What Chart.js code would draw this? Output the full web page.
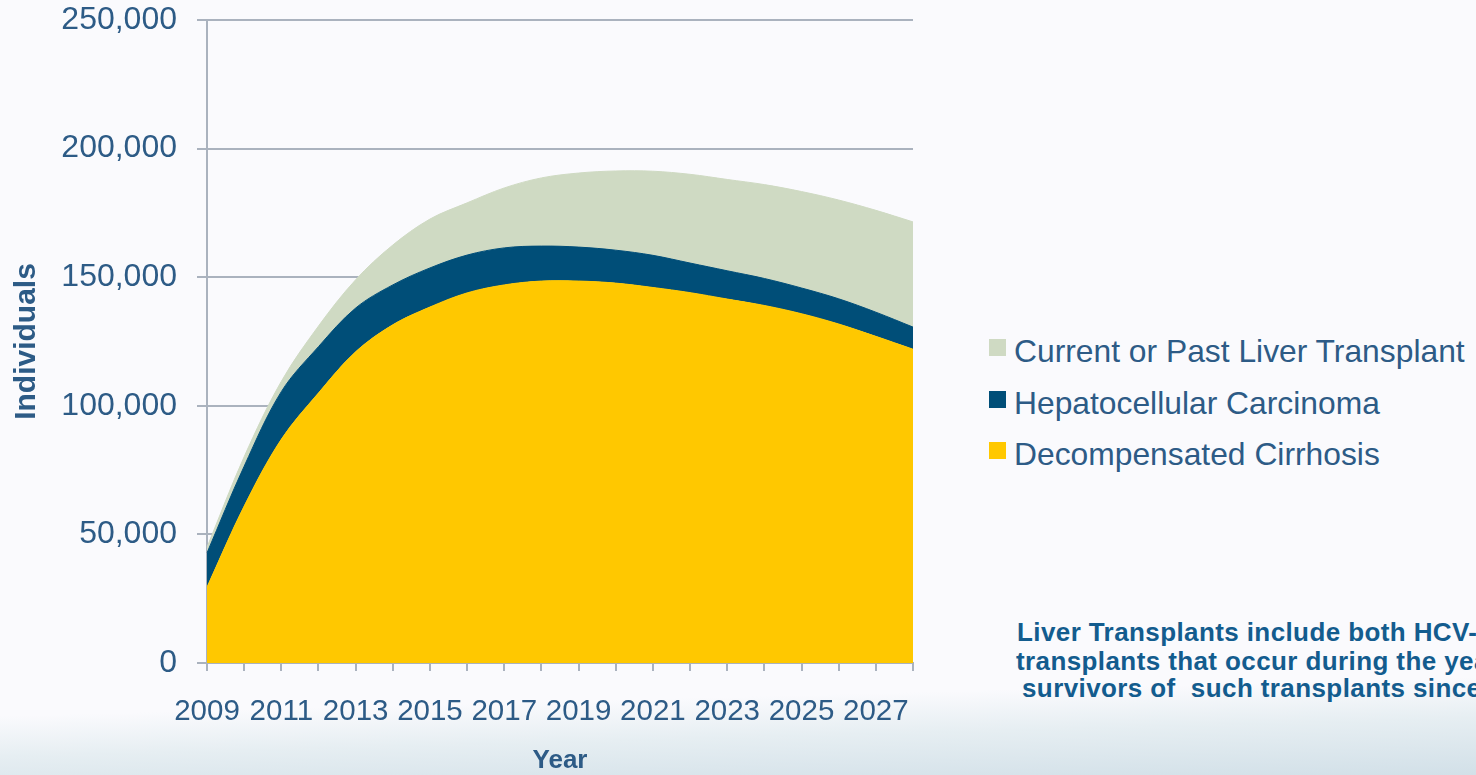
<!DOCTYPE html>
<html>
<head>
<meta charset="utf-8">
<script src="https://cdn.jsdelivr.net/npm/chart.js@4.4.1/dist/chart.umd.min.js"></script>
<style>
    html, body {
        margin: 0;
        padding: 0;
        width: 1476px;
        height: 775px;
        overflow: hidden;
        font-family: "Liberation Sans", Arial, sans-serif;
        background: linear-gradient(178.5deg, #fafafd 0%, #fafafd 88%, #e6eef2 93%, #d2e0e8 100%);
    }
    #grafico {
        position: absolute;
        left: 0;
        top: 0;
    }
    .legenda_item {
        position: absolute;
        left: 989px;
        height: 36px;
        color: #2d5b86;
        font-size: 31.8px;
        line-height: 36px;
        white-space: nowrap;
    }
    .legenda_item span {
        position: absolute;
        left: 0;
        top: 6px;
        width: 17px;
        height: 17px;
    }
    .legenda_item p {
        margin: 0;
        position: absolute;
        left: 25px;
        top: 0;
    }
    .nota {
        position: absolute;
        margin: 0;
        color: #135c8e;
        font-size: 26px;
        font-weight: bold;
        letter-spacing: 0.4px;
        line-height: 30px;
        white-space: pre;
    }
</style>
</head>
<body>
<canvas id="grafico" width="960" height="775"></canvas>
<div id="legenda"></div>
<p class="nota" style="left:1017px; top:617px;">Liver Transplants include both HCV-related</p>
<p class="nota" style="left:1016px; top:646px;">transplants that occur during the year and</p>
<p class="nota" style="left:1022px; top:673px;">survivors of  such transplants since</p>

<script>
// dados (individuos por ano)
const anos = ["2009", "2010", "2011", "2012", "2013", "2014", "2015", "2016", "2017", "2018",
    "2019", "2020", "2021", "2022", "2023", "2024", "2025", "2026", "2027", "2028"];

const cirrose = [29500, 61000, 87000, 105000, 121000, 131500, 138400, 143900, 147000, 148500,
    148500, 147700, 146000, 144000, 141500, 139000, 135800, 131800, 127000, 122000];

const carcinoma = [13300, 15500, 18500, 18000, 17000, 15500, 15200, 14700, 14400, 13600,
    13200, 12800, 12500, 11500, 11000, 10500, 10000, 9800, 9400, 8600];

const transplante = [2200, 3700, 4000, 8000, 11000, 15500, 19000, 20300, 23300, 26500,
    28800, 30800, 32700, 34500, 35500, 36500, 37500, 38400, 39600, 40900];

const ticksY = [0, 50000, 100000, 150000, 200000, 250000];

const corTexto = "#2d5b86";
const corGrade = "#aab2be";

const series = [
    { nome: "Decompensated Cirrhosis", dados: cirrose, cor: "#ffc800" },
    { nome: "Hepatocellular Carcinoma", dados: carcinoma, cor: "#004e78" },
    { nome: "Current or Past Liver Transplant", dados: transplante, cor: "#cfdac3" }
];

const datasets = series.map((s, i) => ({
    label: s.nome,
    data: s.dados,
    backgroundColor: s.cor,
    borderColor: s.cor,
    borderWidth: 1,
    fill: i === 0 ? "origin" : "-1",
    pointRadius: 0,
    tension: 0.35
}));

const ctx = document.getElementById("grafico").getContext("2d");

new Chart(ctx, {
    type: "line",
    data: {
        labels: anos,
        datasets: datasets
    },
    options: {
        responsive: false,
        animation: false,
        devicePixelRatio: 1,
        locale: "en-US",
        layout: {
            padding: { top: 20, right: 47, bottom: 0, left: 0 }
        },
        plugins: {
            legend: { display: false },
            tooltip: { enabled: false }
        },
        scales: {
            x: {
                grid: {
                    display: true,
                    drawOnChartArea: false,
                    drawTicks: true,
                    tickLength: 8,
                    color: corGrade,
                    lineWidth: 2
                },
                border: { display: true, color: corGrade, width: 2 },
                ticks: {
                    color: corTexto,
                    font: { family: "Liberation Sans", size: 29.5 },
                    padding: 23,
                    autoSkip: false,
                    maxRotation: 0,
                    callback: function (valor, idx) {
                        return idx % 2 === 0 && idx < anos.length - 1 ? anos[idx] : "";
                    }
                },
                title: {
                    display: true,
                    text: "Year",
                    color: corTexto,
                    font: { family: "Liberation Sans", size: 26, weight: "bold", lineHeight: 1 },
                    padding: { top: 0, bottom: 1 }
                },
                afterFit: function (scale) {
                    scale.height = 775 - 663;
                }
            },
            y: {
                stacked: true,
                min: 0,
                max: 250000,
                afterBuildTicks: function (scale) {
                    scale.ticks = ticksY.map(v => ({ value: v }));
                },
                grid: {
                    color: corGrade,
                    lineWidth: 2,
                    tickLength: 10
                },
                border: { display: true, color: corGrade, width: 2 },
                ticks: {
                    color: corTexto,
                    font: { family: "Liberation Sans", size: 32 },
                    padding: 20
                },
                title: {
                    display: true,
                    text: "Individuals",
                    color: corTexto,
                    font: { family: "Liberation Sans", size: 30, weight: "bold", lineHeight: 1 },
                    padding: { top: 12, bottom: 0 }
                },
                afterFit: function (scale) {
                    scale.width = 207;
                    // o topo da area do grafico fica so no padding do layout
                    scale.paddingTop = 0;
                    scale.paddingBottom = 0;
                }
            }
        }
    }
});

// legenda em html, na mesma ordem do grafico original (de cima pra baixo)
const legenda = document.getElementById("legenda");
const topos = [333, 384.5, 436];
series.slice().reverse().forEach((s, i) => {
    const item = document.createElement("div");
    item.className = "legenda_item";
    item.style.top = topos[i] + "px";
    item.innerHTML = `<span style="background:${s.cor}"></span><p>${s.nome}</p>`;
    legenda.appendChild(item);
});
</script>
</body>
</html>
